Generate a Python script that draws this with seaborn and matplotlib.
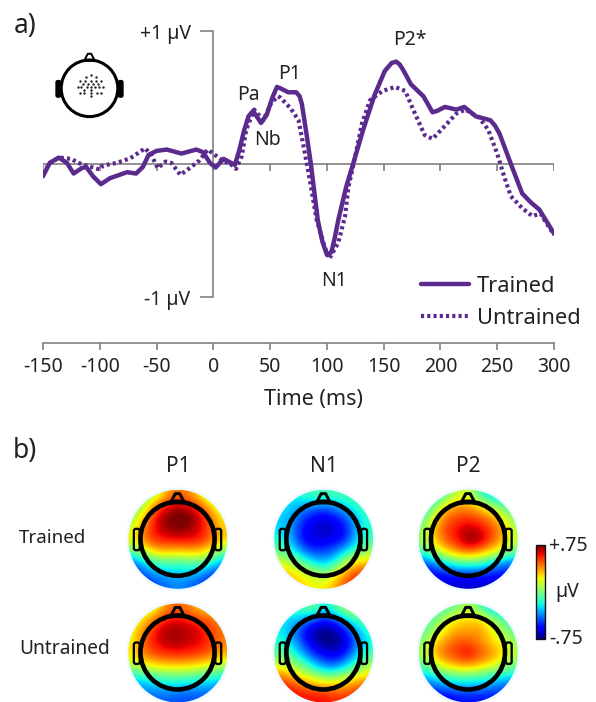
import numpy as np
import matplotlib
matplotlib.use("Agg")
import matplotlib.pyplot as plt
import seaborn as sns
from matplotlib.patches import Circle, FancyBboxPatch, Polygon
from matplotlib.lines import Line2D
from matplotlib.cm import ScalarMappable
from matplotlib.colors import Normalize

# ERP traces
trained_t = [-150, -144, -136, -129, -123, -116, -112, -106, -99, -91, -76, -68, -62, -57, -50, -41, -28, -15, -9, -3,
             2, 9, 19, 23, 27, 31, 35, 42, 47, 52, 56, 59, 66, 73, 76, 78, 82, 86, 92, 96, 100, 104, 107, 110, 117,
             123, 132, 142, 151, 157, 161, 164, 167, 174, 185, 193, 197, 204, 214, 221, 231, 244, 248, 252, 263,
             272, 280, 287, 300]
trained_v = [-0.09, 0.01, 0.05, 0.01, -0.07, -0.03, -0.02, -0.09, -0.15, -0.105, -0.06, -0.07, -0.02, 0.07, 0.10, 0.11,
             0.08, 0.11, 0.09, 0.01, -0.025, 0.04, -0.005, 0.11, 0.25, 0.36, 0.40, 0.31, 0.37, 0.50, 0.58, 0.57, 0.54,
             0.54, 0.51, 0.45, 0.23, -0.005, -0.42, -0.58, -0.68, -0.66, -0.55, -0.42, -0.17, 0.0, 0.26, 0.52, 0.70,
             0.76, 0.77, 0.75, 0.71, 0.60, 0.51, 0.39, 0.40, 0.43, 0.41, 0.43, 0.36, 0.33, 0.29, 0.23, -0.02, -0.22,
             -0.29, -0.34, -0.52]

untrained_t = [-150, -144, -136, -125, -119, -112, -100, -97, -85, -73, -60, -54, -49, -42, -37, -29, -21, -12, -5, 3,
               9, 14, 20, 25, 29, 36, 44, 51, 57, 59, 68, 75, 80, 85, 91, 98, 102, 110, 116, 119, 125, 131, 138, 149,
               160, 169, 176, 186, 193, 202, 214, 222, 234, 242, 250, 256, 262, 272, 281, 288, 300]
untrained_v = [-0.07, 0.01, 0.05, 0.04, 0.01, -0.01, -0.04, -0.01, 0.01, 0.045, 0.12, 0.06, -0.03, 0.02, 0.01, -0.08,
               -0.03, 0.03, 0.11, 0.06, 0.02, 0.01, -0.035, 0.06, 0.26, 0.41, 0.33, 0.46, 0.51, 0.50, 0.42, 0.33, 0.11,
               -0.12, -0.42, -0.62, -0.71, -0.59, -0.39, -0.17, 0.06, 0.31, 0.48, 0.55, 0.58, 0.55, 0.41, 0.22, 0.19,
               0.27, 0.38, 0.41, 0.35, 0.26, 0.08, -0.09, -0.24, -0.33, -0.39, -0.37, -0.53]

x_ticks = [-150, -100, -50, 0, 50, 100, 150, 200, 250, 300]
peak_names = ["Pa", "Nb", "P1", "N1", "P2*"]
peak_t = [30.5, 48, 67.5, 106, 173]
peak_v = [0.52, 0.18, 0.68, -0.88, 0.93]

# electrode dots on the small head, pixels from head centre
dots_x = [1, -4, 6, -10, -5, 1, 6, 11, -7, -2, 3, 8, -12, -9, -3, 1, 5, 9, 13, -6, 1, -10, -6, 1, 7, 11, 1]
dots_y = [-13, -11, -11, -7, -7, -7, -7, -7, -4, -4, -4, -4, -1, -1, -1, -1, -1, -1, -1, 2, 2, 5, 5, 5, 5, 5, 8]

# scalp maps in uV, top row is the front of the head
p1_trained = [
    [0, 0, .1, .35, .45, .4, .25, .05, 0],
    [-.05, .12, .45, .6, .68, .62, .5, .3, .12],
    [.08, .32, .58, .75, .8, .8, .65, .45, .22],
    [.15, .42, .62, .72, .75, .72, .62, .48, .3],
    [.22, .45, .55, .58, .6, .6, .58, .46, .28],
    [-.05, .15, .32, .35, .32, .35, .32, .22, .02],
    [-.35, -.2, -.1, -.05, -.08, -.05, -.02, -.12, -.3],
    [-.55, -.4, -.3, -.28, -.25, -.25, -.3, -.4, -.5],
    [-.6, -.55, -.45, -.4, -.35, -.4, -.45, -.55, -.6],
]
n1_trained = [
    [-.2, -.2, -.15, -.1, -.1, -.1, -.1, -.1, -.1],
    [-.2, -.25, -.32, -.35, -.4, -.35, -.22, -.15, -.1],
    [-.25, -.3, -.45, -.58, -.62, -.55, -.45, -.25, -.15],
    [-.25, -.32, -.55, -.62, -.68, -.65, -.55, -.3, -.15],
    [-.15, -.28, -.55, -.62, -.62, -.6, -.52, -.25, -.1],
    [-.05, -.15, -.35, -.5, -.48, -.42, -.25, -.1, .05],
    [.15, .08, -.05, -.22, -.3, -.2, .08, .25, .28],
    [.32, .28, .18, .1, -.02, .12, .35, .5, .5],
    [.38, .32, .28, .22, .22, .32, .5, .6, .58],
]
p2_trained = [
    [-.2, -.2, -.05, .15, .15, -.1, -.25, -.25, -.2],
    [-.2, .02, .28, .38, .38, .28, .12, -.05, -.1],
    [-.05, .22, .45, .5, .52, .48, .4, .22, .02],
    [.02, .35, .52, .6, .68, .62, .52, .38, .1],
    [.08, .32, .48, .6, .75, .72, .52, .35, .15],
    [-.08, .12, .3, .42, .5, .42, .3, .17, 0],
    [-.4, -.28, -.15, -.03, -.03, -.03, -.15, -.28, -.35],
    [-.6, -.55, -.5, -.45, -.45, -.45, -.5, -.55, -.55],
    [-.6, -.65, -.65, -.65, -.65, -.65, -.65, -.6, -.6],
]
p1_untrained = [
    [.1, .1, .2, .4, .45, .42, .3, .25, .12],
    [.15, .28, .45, .58, .6, .56, .52, .48, .4],
    [.22, .42, .6, .7, .72, .68, .62, .52, .42],
    [.22, .48, .6, .68, .7, .65, .62, .54, .42],
    [.25, .45, .52, .56, .58, .56, .54, .47, .35],
    [.15, .22, .3, .33, .33, .33, .28, .22, .15],
    [-.15, -.1, -.05, -.02, -.02, -.02, -.05, -.1, -.15],
    [-.35, -.3, -.28, -.25, -.25, -.28, -.3, -.3, -.35],
    [-.45, -.42, -.42, -.42, -.45, -.45, -.45, -.45, -.45],
]
n1_untrained = [
    [-.1, -.1, -.1, 0, -.2, -.1, .1, .1, 0],
    [-.2, -.25, -.3, -.4, -.55, -.45, -.25, -.1, -.05],
    [-.2, -.3, -.5, -.7, -.75, -.72, -.55, -.3, -.15],
    [-.15, -.25, -.45, -.65, -.75, -.75, -.65, -.4, -.2],
    [-.05, -.1, -.3, -.5, -.6, -.65, -.55, -.3, -.1],
    [.12, .08, -.05, -.25, -.4, -.45, -.3, -.1, .05],
    [.4, .3, .2, .08, -.05, -.05, .05, .15, .25],
    [.6, .55, .45, .4, .35, .35, .35, .45, .5],
    [.65, .65, .6, .6, .6, .55, .55, .55, .55],
]
p2_untrained = [
    [-.1, -.1, -.1, 0, .1, -.05, -.25, -.3, -.25],
    [-.1, -.02, .15, .25, .28, .28, .12, -.05, -.15],
    [-.05, .08, .25, .35, .35, .38, .25, .08, -.05],
    [.02, .25, .4, .48, .48, .4, .28, .2, .05],
    [.08, .38, .48, .55, .62, .5, .42, .28, .12],
    [-.02, .15, .3, .38, .42, .35, .25, .15, .02],
    [-.25, -.15, -.05, -.02, -.02, -.05, -.1, -.15, -.2],
    [-.45, -.4, -.35, -.3, -.3, -.3, -.35, -.4, -.45],
    [-.55, -.6, -.6, -.55, -.55, -.55, -.55, -.55, -.55],
]

W, H = 596, 702
PURPLE = "#5b2a8e"
GREY = "#808080"
TEXT = "#222222"
DOTTED = (0, (0.75, 0.75))

sns.set_style("white")
plt.rcParams["font.family"] = ["Noto Sans", "DejaVu Sans"]

fig = plt.figure(figsize=(W / 100, H / 100), dpi=100)

# ---- panel a
ax = fig.add_axes([43 / W, 1 - 342.7 / H, (554 - 43) / W, (342.7 - 31) / H])
ax.patch.set_alpha(0)
ax.set_xlim(-150, 300)
ax.set_ylim(-1.34, 1.0)

ax.axhline(0, color=GREY, lw=1.2, zorder=1)
ax.vlines(x_ticks, -0.05, 0, color=GREY, lw=1.2, zorder=1)

sns.lineplot(x=untrained_t, y=untrained_v, ax=ax, color=PURPLE, lw=3.0, estimator=None, sort=False,
             linestyle=DOTTED, zorder=3)
sns.lineplot(x=trained_t, y=trained_v, ax=ax, color=PURPLE, lw=3.2, estimator=None, sort=False,
             solid_joinstyle="round", zorder=4)

for side in ["top", "right"]:
    ax.spines[side].set_visible(False)
ax.spines["left"].set_position(("data", 0))
ax.spines["left"].set_bounds(-1, 1)
ax.spines["left"].set_color(GREY)
ax.spines["left"].set_linewidth(1.2)
ax.spines["bottom"].set_color(GREY)
ax.spines["bottom"].set_linewidth(1.2)

ax.set_yticks([-1, 1])
ax.set_yticklabels(["-1 µV", "+1 µV"], fontsize=14, color=TEXT)
ax.tick_params(axis="y", left=True, length=9.4, width=1.2, color=GREY, pad=7)
ax.set_xticks(x_ticks)
ax.set_xticklabels([str(t) for t in x_ticks], fontsize=14, color=TEXT)
ax.tick_params(axis="x", bottom=True, length=5, width=1.2, color=GREY, pad=5)

for name, t, v in zip(peak_names, peak_t, peak_v):
    ax.text(t, v, name, ha="center", va="center", fontsize=14, color=TEXT)

handles = [
    Line2D([], [], color=PURPLE, lw=3.2, label="Trained"),
    Line2D([], [], color=PURPLE, lw=3.0, linestyle=DOTTED, label="Untrained"),
]
ax.legend(handles=handles, loc="lower right", bbox_to_anchor=(1.09, -0.018), frameon=False, fontsize=15.7,
          handlelength=2.2, handletextpad=0.35, labelspacing=0.5, labelcolor=TEXT)

# ---- everything else is placed in figure pixels
over = fig.add_axes([0, 0, 1, 1])
over.axis("off")


def draw_head(cx, cy, r, lw, filled_ears=False):
    over.add_patch(Circle((cx, cy), r, fill=False, ec="black", lw=lw, zorder=6))
    nose = Polygon([(cx - 0.19 * r, cy - 0.97 * r), (cx - 0.06 * r, cy - 1.22 * r), (cx + 0.06 * r, cy - 1.22 * r),
                    (cx + 0.19 * r, cy - 0.97 * r)], closed=True, fc="none", ec="black", lw=lw * 0.65,
                   joinstyle="round", zorder=6)
    over.add_patch(nose)
    for sign in [-1, 1]:
        x0 = cx + sign * 1.1 * r - 0.08 * r
        ear = FancyBboxPatch((x0, cy - 0.27 * r), 0.16 * r, 0.58 * r, boxstyle=f"round,pad=0,rounding_size={0.06 * r}",
                             fc="black" if filled_ears else "none", ec="black", lw=lw * 0.5, zorder=5)
        over.add_patch(ear)


def draw_map(grid, cx, cy):
    r = 49.5
    over.add_patch(Circle((cx, cy), r + 2.5, fc="#eefaff", ec="none", zorder=1))
    im = over.imshow(np.array(grid), cmap="jet", vmin=-0.75, vmax=0.75, interpolation="bicubic", aspect="auto",
                     extent=(cx - r, cx + r, cy + r, cy - r), zorder=2)
    im.set_clip_path(Circle((cx, cy), r, transform=over.transData))
    draw_head(cx - 0.3, cy - 0.5, 37, 3.3)


map_rows = [(539.3, [p1_trained, n1_trained, p2_trained]), (653.0, [p1_untrained, n1_untrained, p2_untrained])]
map_cols = [177.8, 323.7, 468.3]
for row_y, grids in map_rows:
    for col_x, grid in zip(map_cols, grids):
        draw_map(grid, col_x, row_y)

# small head with the electrode cluster
draw_head(89.5, 88.3, 28.3, 2.2, filled_ears=True)
over.scatter(89.5 + np.array(dots_x), 88.3 + np.array(dots_y), s=3, color="#222222", linewidths=0, zorder=6)

over.set_xlim(0, W)
over.set_ylim(H, 0)

over.text(14, 26, "a)", fontsize=19, color=TEXT, va="center", ha="left")
over.text(13, 451, "b)", fontsize=19, color=TEXT, va="center", ha="left")
over.text(313.5, 399, "Time (ms)", fontsize=15.5, color=TEXT, ha="center", va="center")
for name, x in zip(["P1", "N1", "P2"], map_cols):
    over.text(x, 467, name, fontsize=15, color=TEXT, ha="center", va="center")
over.text(19, 538, "Trained", fontsize=13.5, color=TEXT, ha="left", va="center")
over.text(19, 649, "Untrained", fontsize=13.8, color=TEXT, ha="left", va="center")

# ---- colorbar
cax = fig.add_axes([535.5 / W, 1 - 639 / H, 9.5 / W, 94 / H])
cb = fig.colorbar(ScalarMappable(Normalize(-0.75, 0.75), cmap="jet"), cax=cax)
cb.set_ticks([])
cb.outline.set_edgecolor("#111111")
cb.outline.set_linewidth(1.0)
over.text(549, 546, "+.75", fontsize=14, color=TEXT, ha="left", va="center")
over.text(555, 592, "µV", fontsize=14, color=TEXT, ha="left", va="center")
over.text(549, 639, "-.75", fontsize=14, color=TEXT, ha="left", va="center")

fig.savefig("out.png", dpi=100)
plt.close(fig)
